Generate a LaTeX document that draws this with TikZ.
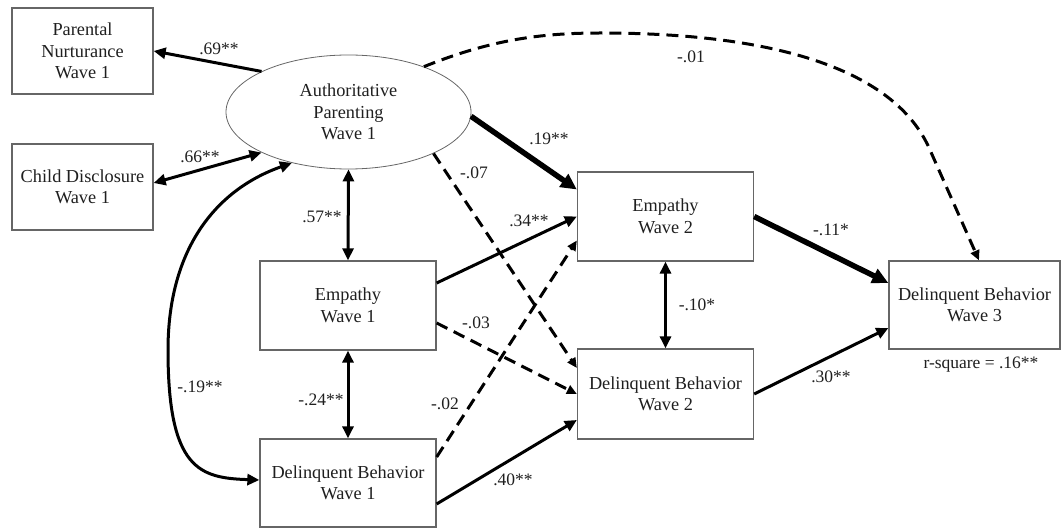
\documentclass[tikz,border=0pt]{standalone}
\usepackage{fontspec}
\setmainfont{Liberation Serif}
\usetikzlibrary{arrows.meta,shapes.geometric}
\begin{document}
\begin{tikzpicture}[x=1pt,y=-1pt,
  font=\fontsize{17.5}{21.5}\selectfont,
  every node/.style={text=black!88},
  box/.style={draw=black!60, line width=1.3pt, fill=white, align=center, inner sep=0pt, rectangle, font=\fontsize{18.3}{21.5}\selectfont},
  lab/.style={inner sep=0pt},
  tipn/.tip={Triangle[length=12pt,width=11pt]},
  tipk/.tip={Triangle[length=16pt,width=15pt]},
  tipd/.tip={Triangle[length=10pt,width=9pt]},
  arr/.style={line width=3pt, -tipn},
  dbl/.style={line width=3pt, tipn-tipn},
  thk/.style={line width=5.5pt, -tipk},
  dsh/.style={line width=3pt, -tipd, dash pattern=on 12pt off 7pt},
]
\useasboundingbox (0,0) rectangle (1061,529);

% nodes
\node[box, minimum width=141pt, minimum height=86pt] (pn) at (82.5,51) {Parental\\Nurturance\\Wave 1};
\node[box, minimum width=141pt, minimum height=86pt] (cd) at (82.5,187) {Child Disclosure\\Wave 1};
\node[draw=black!60, line width=0.8pt, ellipse, minimum width=245pt, minimum height=114pt, inner sep=0pt, align=center, font=\fontsize{18.3}{21.5}\selectfont] (ap) at (348.5,112) {Authoritative\\Parenting\\Wave 1};
\node[box, minimum width=176pt, minimum height=89pt] (e1) at (348,305.5) {Empathy\\Wave 1};
\node[box, minimum width=176pt, minimum height=88pt] (d1) at (348,483) {Delinquent Behavior\\Wave 1};
\node[box, minimum width=176pt, minimum height=89pt] (e2) at (665.5,216.5) {Empathy\\Wave 2};
\node[box, minimum width=176pt, minimum height=90pt] (d2) at (665.5,394) {Delinquent Behavior\\Wave 2};
\node[box, minimum width=171pt, minimum height=88pt] (d3) at (974.5,305) {Delinquent Behavior\\Wave 3};
\node[lab] (rsq) at (981,365) {r-square = .16**};

% connectors
\draw[arr] (ap.155.7) -- (pn.east);
\draw[dbl] (ap.205.9) -- ([yshift=4pt]cd.east);
\draw[dbl] (ap.222) .. controls (215,190) and (168,250) .. (168,350)
   .. controls (168,470) and (200,478) .. ([yshift=3pt]d1.west);
\draw[dbl] (ap.south) -- (e1.north);
\draw[dbl] (e1.south) -- (d1.north);
\draw[dbl] (e2.south) -- (d2.north);
\draw[thk] (ap.-2) -- ([yshift=27pt]e2.west);
\draw[dsh] (ap.-26.7) -- ([yshift=26pt]d2.west);
\draw[arr] ([yshift=22.5pt]e1.east) -- (e2.west);
\draw[dsh] ([yshift=-17.5pt]e1.east) -- (d2.west);
\draw[dsh] ([yshift=26pt]d1.east) -- ([yshift=-24pt]e2.west);
\draw[arr] ([yshift=-21pt]d1.east) -- ([yshift=-26pt]d2.west);
\draw[thk] (e2.east) -- ([yshift=22pt]d3.west);
\draw[arr] (d2.east) -- ([yshift=-23pt]d3.west);
\draw[dsh] (ap.31) .. controls (490,40) and (540,33) .. (600,33)
   .. controls (800,33) and (900,80) .. (930,150) -- ([xshift=4.5pt]d3.north);

% labels
\node[lab] (l69) at (219,49) {.69**};
\node[lab] (l66) at (200,157) {.66**};
\node[lab] (l57) at (322,217) {.57**};
\node[lab] (l19n) at (200,387) {-.19**};
\node[lab] (l24) at (321,400) {-.24**};
\node[lab] (l02) at (445,404) {-.02};
\node[lab] (l03) at (476,323) {-.03};
\node[lab] (l40) at (513,480) {.40**};
\node[lab] (l34) at (529,221) {.34**};
\node[lab] (l19) at (549,139) {.19**};
\node[lab] (l07) at (474,173) {-.07};
\node[lab] (l01) at (691,57) {-.01};
\node[lab] (l11) at (831,230) {-.11*};
\node[lab] (l10) at (697,305) {-.10*};
\node[lab] (l30) at (831,377) {.30**};
\end{tikzpicture}
\end{document}
